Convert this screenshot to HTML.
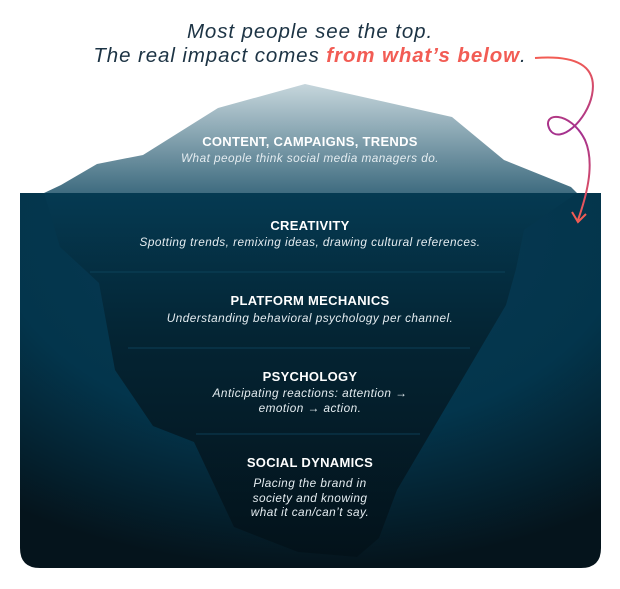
<!DOCTYPE html>
<html><head><meta charset="utf-8"><style>
html,body{margin:0;padding:0;background:#fff;width:620px;height:589px;overflow:hidden;font-family:"Liberation Sans",sans-serif}
.t{position:absolute;left:0;width:620px;text-align:center}
.h{font-weight:bold;font-size:13px;color:#fff;letter-spacing:0.3px}
.s{font-style:italic;font-size:11.8px;color:#e4ecf0;line-height:14.5px;letter-spacing:0.45px}
</style></head><body>
<svg width="620" height="589" style="position:absolute;left:0;top:0">
<defs>
<linearGradient id="top" x1="0" y1="0" x2="0" y2="1">
<stop offset="0" stop-color="#c6d6dc"/><stop offset="1" stop-color="#3f6c80"/></linearGradient>
<radialGradient id="water" cx="0.5" cy="0.1" r="0.9">
<stop offset="0" stop-color="#0a3a52"/><stop offset="0.6" stop-color="#03354c"/><stop offset="1" stop-color="#05141c"/></radialGradient>
<linearGradient id="ice" x1="0" y1="0" x2="0" y2="1">
<stop offset="0" stop-color="#053a52"/><stop offset="0.4" stop-color="#042433"/><stop offset="1" stop-color="#03121a"/></linearGradient>
<linearGradient id="arr" x1="0" y1="0" x2="0" y2="1">
<stop offset="0" stop-color="#f25c54"/><stop offset="0.45" stop-color="#a3308f"/><stop offset="1" stop-color="#f25c54"/></linearGradient>
</defs>
<path d="M20 193 H601 V548 Q601 568 581 568 H40 Q20 568 20 548 Z" fill="url(#water)"/>
<path d="M44 193 L61 185 L97 164 L143 155 L218 108 L305 84 L452 117 L504 160 L571 187 L577 193 Z" fill="url(#top)"/>
<path d="M44 193 L60 247 L85 270 L99 283 L115 370 L153 426 L194 442 L234 527 L298 552 L357 557 L379 538 L397 490 L506 305 L516 269 L524 230 L577 193 Z" fill="url(#ice)"/>
<g stroke="#0e4660" stroke-width="1" opacity="0.8">
<line x1="90" y1="272" x2="505" y2="272"/>
<line x1="128" y1="348" x2="470" y2="348"/>
<line x1="196" y1="434" x2="420" y2="434"/>
</g>
<path d="M535 58 C575 55 598 65 592 95 C587 120 560 145 550 130 C540 112 570 110 585 140 C596 165 585 200 578 220" fill="none" stroke="url(#arr)" stroke-width="2"/>
<path d="M572 212 L578 222 L586 214" fill="none" stroke="#f25c54" stroke-width="2"/>
</svg>
<div class="t" style="top:20px;font-style:italic;font-size:20.5px;color:#1c3344;line-height:24px;letter-spacing:0.9px">Most people see the top.<br>The real impact comes <b style="color:#f25c54">from what’s below</b>.</div>
<div class="t h" style="top:134px">CONTENT, CAMPAIGNS, TRENDS</div>
<div class="t s" style="top:151px">What people think social media managers do.</div>
<div class="t h" style="top:218px">CREATIVITY</div>
<div class="t s" style="top:235px">Spotting trends, remixing ideas, drawing cultural references.</div>
<div class="t h" style="top:293px">PLATFORM MECHANICS</div>
<div class="t s" style="top:311px">Understanding behavioral psychology per channel.</div>
<div class="t h" style="top:369px">PSYCHOLOGY</div>
<div class="t s" style="top:386px">Anticipating reactions: attention →<br>emotion → action.</div>
<div class="t h" style="top:455px">SOCIAL DYNAMICS</div>
<div class="t s" style="top:476px">Placing the brand in<br>society and knowing<br>what it can/can’t say.</div>
</body></html>
